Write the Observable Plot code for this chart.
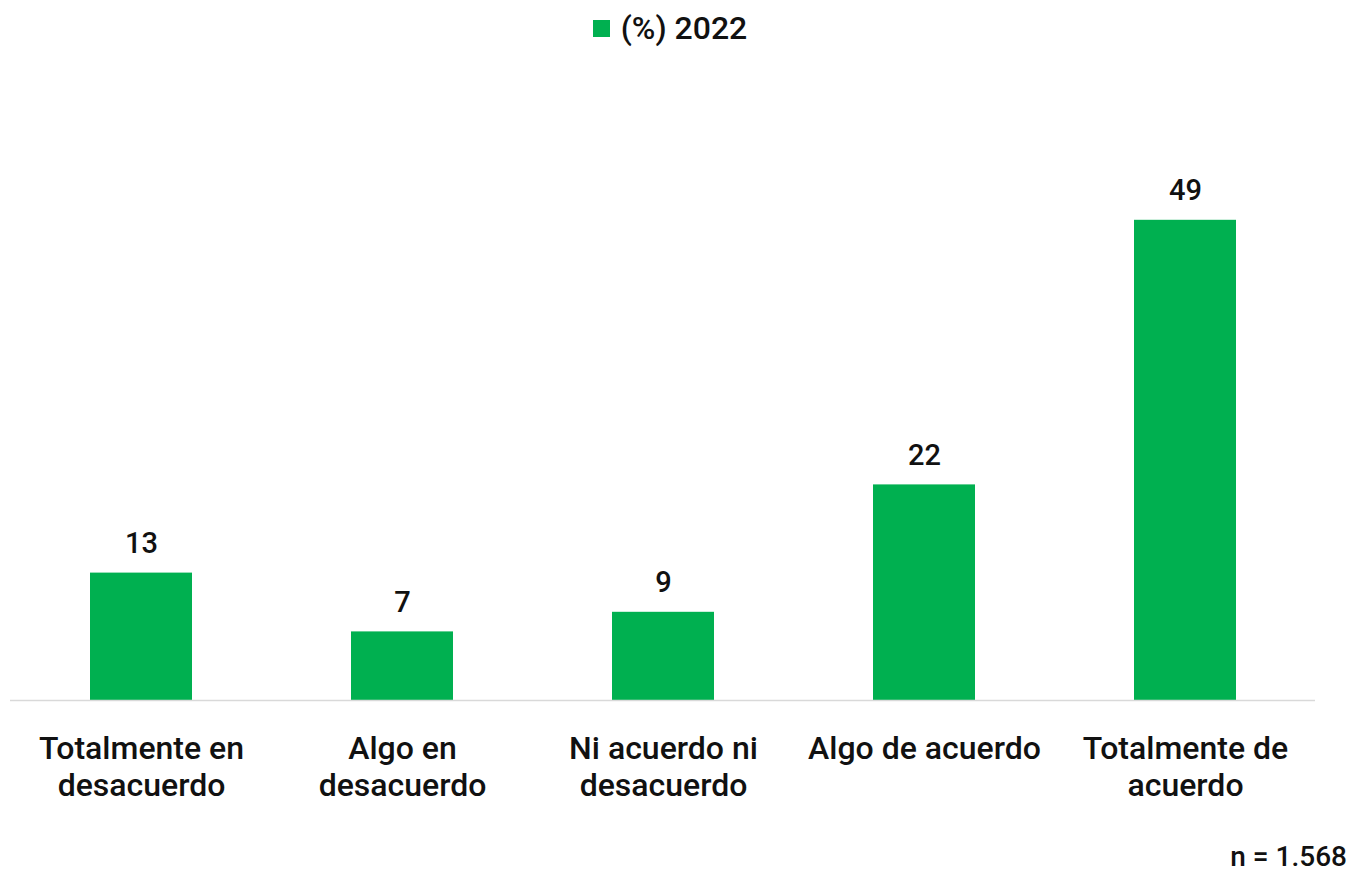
<!DOCTYPE html>
<html>
<head>
<meta charset="utf-8">
<script src="https://cdn.jsdelivr.net/npm/d3@7"></script>
<script src="https://cdn.jsdelivr.net/npm/@observablehq/plot@0.6"></script>
<style>
  html, body { margin: 0; background: #fff; font-family: Roboto, "Noto Sans", sans-serif; overflow: hidden; }
  #legend { height: 56px; display: flex; justify-content: center; align-items: center; font-size: 32px; font-weight: 500; color: #111; padding-right: 12px; box-sizing: border-box; }
  #legend .sw { width: 17px; height: 17px; background: #00B050; margin-right: 11px; margin-top: 1px; }
  #caption { width: 1352px; text-align: right; font-size: 28px; font-weight: 500; color: #111; box-sizing: border-box; padding-right: 5px; line-height: 28px; margin-top: 23px; }
</style>
</head>
<body>
<div id="legend"><div class="sw"></div><span>(%) 2022</span></div>
<div id="chart"></div>
<div id="caption">n = 1.568</div>
<script>
const categories = ["Totalmente en\ndesacuerdo", "Algo en\ndesacuerdo", "Ni acuerdo ni\ndesacuerdo", "Algo de acuerdo", "Totalmente de\nacuerdo"];
const values2022 = [13, 7, 9, 22, 49];
const data = categories.map((c, i) => ({category: c, value: values2022[i]}));

const chart = Plot.plot({
  width: 1352,
  height: 764,
  marginLeft: 10,
  marginRight: 37,
  marginTop: 56,
  marginBottom: 120,
  style: {fontFamily: "Roboto, 'Noto Sans', sans-serif", fontWeight: 500, color: "#111", display: "block"},
  x: {domain: categories, paddingInner: 0.61, paddingOuter: 0.305, axis: null},
  y: {domain: [0, 60], axis: null},
  marks: [
    Plot.barY(data, {x: "category", y: "value", fill: "#00B050"}),
    Plot.ruleY([0], {stroke: "#d9d9d9", strokeWidth: 1.5}),
    Plot.text(data, {x: "category", y: "value", text: d => String(d.value), lineAnchor: "bottom", dy: -20, fontSize: 29, fontWeight: 500, fill: "#111"}),
    Plot.text(data, {x: "category", y: () => 0, text: "category", lineAnchor: "top", dy: 32, lineHeight: 1.16, fontSize: 32, fontWeight: 500, fill: "#111"})
  ]
});
document.getElementById("chart").appendChild(chart);
</script>
</body>
</html>
